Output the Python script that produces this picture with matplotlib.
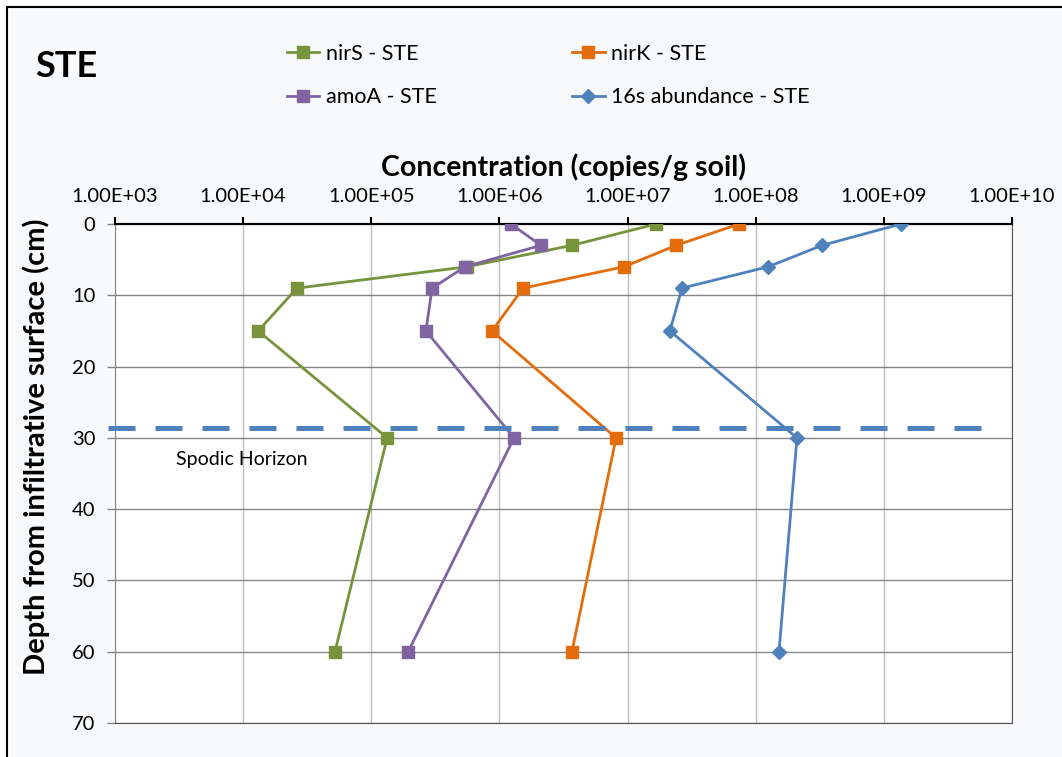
import matplotlib.pyplot as plt
from matplotlib.patches import Rectangle
from matplotlib.ticker import FixedLocator, FuncFormatter, NullLocator

plt.rcParams['font.family'] = ['Lato', 'DejaVu Sans']

# Profondeurs d'échantillonnage (cm)
depth = [0, 3, 6, 9, 15, 30, 60]

# Concentrations (copies/g sol)
nirS = [1.67e7, 3.68e6, 5.58e5, 2.63e4, 1.31e4, 1.33e5, 5.21e4]
nirK = [7.41e7, 2.39e7, 9.38e6, 1.53e6, 8.75e5, 8.13e6, 3.68e6]
amoA = [1.23e6, 2.11e6, 5.39e5, 2.98e5, 2.67e5, 1.30e6, 1.94e5]
abund16s = [1.36e9, 3.29e8, 1.25e8, 2.66e7, 2.14e7, 2.10e8, 1.52e8]

spodic_depth = 28.6

fig = plt.figure(figsize=(10.62, 7.57), dpi=100, facecolor='white')
fig.patches.append(Rectangle((0.0066, -0.05), 1.2, 0.9908 + 0.05, transform=fig.transFigure,
                             facecolor='#f8f9fb', edgecolor='black', linewidth=1.5, zorder=-10))

ax = fig.add_axes([0.1083, 0.0449, 0.8446, 0.6592])
ax.set_facecolor('white')

l1, = ax.plot(nirS, depth, color='#77933C', lw=2, marker='s', ms=9, label='nirS - STE', zorder=5)
l2, = ax.plot(nirK, depth, color='#E46C0A', lw=2, marker='s', ms=9, label='nirK - STE', zorder=5)
l3, = ax.plot(amoA, depth, color='#8064A2', lw=2, marker='s', ms=9, label='amoA - STE', zorder=5)
l4, = ax.plot(abund16s, depth, color='#4F81BD', lw=2, marker='D', ms=7, label='16s abundance - STE', zorder=5)

# Horizon spodique
ax.axhline(spodic_depth, xmin=-0.008, xmax=0.97, color='#4F81BD', lw=3.6,
           dashes=(5.4, 4), clip_on=False, zorder=6)
ax.text(3.0e3, 33.0, 'Spodic Horizon', fontsize=14, color='black', va='center')

ax.set_xscale('log')
ax.set_xlim(1e3, 1e10)
ax.set_ylim(70, 0)
ax.xaxis.set_major_locator(FixedLocator([10.0 ** k for k in range(3, 11)]))
ax.xaxis.set_minor_locator(NullLocator())
ax.xaxis.set_major_formatter(FuncFormatter(lambda v, p: '%.2E' % v))
ax.set_yticks(range(0, 71, 10))
ax.xaxis.tick_top()
ax.xaxis.set_label_position('top')
ax.tick_params(axis='x', direction='out', length=5, width=1.5, labelsize=14.5, pad=9)
ax.tick_params(axis='y', direction='out', length=6, width=1, color='#868686', labelsize=14.5, pad=8)

ax.grid(axis='x', color='#bfbfbf', lw=1)
ax.grid(axis='y', color='#868686', lw=1)
ax.set_axisbelow(True)

ax.spines['top'].set_linewidth(1.5)
ax.spines['top'].set_color('black')
ax.spines['left'].set_color('#868686')
ax.spines['right'].set_color('#555555')
ax.spines['bottom'].set_color('#555555')

ax.set_xlabel('Concentration (copies/g soil)', fontsize=20.5, fontweight='bold', labelpad=8)
ax.set_ylabel('Depth from infiltrative surface (cm)', fontsize=21, fontweight='bold')
ax.yaxis.set_label_coords(-0.072, 0.553)

fig.text(0.033, 0.912, 'STE', fontsize=26, fontweight='bold', va='center')

fig.legend(handles=[l1, l3, l2, l4], ncol=2, loc='upper left', bbox_to_anchor=(0.252, 0.968),
           frameon=False, fontsize=15.5, handlelength=1.5, handletextpad=0.3,
           columnspacing=6.3, labelspacing=1.1)

fig.savefig('out.png', dpi=100, facecolor=fig.get_facecolor())
